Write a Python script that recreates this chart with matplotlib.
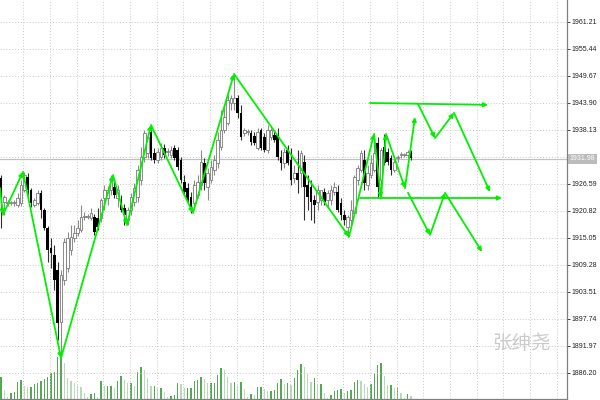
import matplotlib
matplotlib.use("Agg")
import matplotlib.pyplot as plt
import numpy as np

# ---------------- data (prices) ----------------
opens = [1927.9, 1922.7, 1922.5, 1922.5, 1922.5, 1922.1, 1922.5, 1925.3, 1928.1, 1925.3,
         1922.1, 1922.5, 1924.7, 1921.0, 1917.2, 1912.9, 1911.4, 1908.2, 1897.1, 1906.1,
         1908.6, 1912.5, 1915.1, 1916.1, 1916.8, 1919.5, 1919.5, 1919.3, 1919.5, 1919.3,
         1919.3, 1923.6, 1923.6, 1925.3, 1925.9, 1923.6, 1923.2, 1921.5, 1918.9, 1921.0,
         1922.7, 1923.8, 1927.4, 1932.4, 1933.2, 1937.7, 1933.2, 1931.7, 1932.4, 1934.3,
         1933.4, 1932.8, 1934.3, 1933.9, 1931.7, 1927.0, 1925.7, 1923.8, 1922.5, 1924.2,
         1926.4, 1931.1, 1925.9, 1927.4, 1929.6, 1931.1, 1934.5, 1938.1, 1939.6, 1943.9,
         1943.9, 1945.0, 1941.8, 1937.5, 1937.7, 1937.5, 1936.8, 1934.3, 1938.1, 1936.6,
         1933.9, 1936.6, 1937.1, 1937.1, 1932.4, 1931.1, 1933.9, 1931.7, 1927.9, 1928.9,
         1928.9, 1931.3, 1926.4, 1925.9, 1923.2, 1922.7, 1923.2, 1924.9, 1923.2, 1923.2,
         1924.9, 1924.9, 1922.5, 1920.0, 1917.4, 1918.9, 1920.4, 1927.4, 1929.6, 1931.7,
         1926.4, 1928.5, 1929.6, 1935.4, 1927.4, 1934.5, 1933.4, 1932.2, 1929.6, 1932.2,
         1932.8, 1932.8, 1932.8, 1933.4]
highs = [1928.5, 1924.2, 1923.2, 1923.0, 1923.2, 1924.7, 1927.4, 1929.2, 1928.9, 1925.7,
         1923.6, 1925.3, 1925.3, 1921.5, 1917.6, 1915.1, 1913.6, 1909.9, 1908.2, 1915.1,
         1916.3, 1917.8, 1917.8, 1918.9, 1922.1, 1920.6, 1920.2, 1921.5, 1920.2, 1921.5,
         1923.6, 1926.4, 1926.2, 1928.5, 1927.4, 1926.4, 1924.2, 1922.3, 1921.7, 1924.7,
         1926.8, 1930.6, 1934.5, 1938.1, 1937.5, 1939.2, 1934.3, 1934.3, 1935.4, 1935.1,
         1934.3, 1934.7, 1934.9, 1934.5, 1932.4, 1928.5, 1926.8, 1924.9, 1927.4, 1928.5,
         1933.9, 1932.2, 1930.0, 1931.7, 1932.8, 1937.7, 1942.4, 1943.5, 1945.6, 1945.6,
         1950.1, 1945.6, 1943.5, 1938.6, 1938.3, 1938.1, 1937.7, 1938.6, 1938.6, 1937.5,
         1939.2, 1938.6, 1938.1, 1938.6, 1933.9, 1934.3, 1934.9, 1934.3, 1930.6, 1933.9,
         1933.9, 1932.8, 1928.5, 1927.4, 1924.2, 1926.4, 1925.3, 1925.7, 1925.3, 1926.4,
         1927.0, 1926.4, 1923.6, 1921.0, 1920.0, 1923.2, 1928.5, 1930.6, 1933.9, 1933.9,
         1930.6, 1932.8, 1937.3, 1936.6, 1934.3, 1937.3, 1934.3, 1932.8, 1932.2, 1932.8,
         1933.4, 1933.2, 1933.9, 1933.9]
lows = [1917.2, 1920.0, 1921.9, 1922.1, 1921.9, 1921.7, 1921.9, 1924.9, 1924.2, 1921.7,
        1921.7, 1922.1, 1919.3, 1916.8, 1909.9, 1908.6, 1903.9, 1893.3, 1889.4, 1905.0,
        1907.8, 1911.4, 1914.2, 1915.5, 1916.3, 1918.9, 1919.1, 1918.9, 1915.7, 1916.8,
        1918.5, 1921.0, 1922.1, 1924.2, 1923.6, 1921.7, 1920.6, 1917.8, 1917.8, 1920.0,
        1921.9, 1922.7, 1926.4, 1931.3, 1932.2, 1931.7, 1931.1, 1931.1, 1931.7, 1932.2,
        1932.6, 1932.2, 1931.7, 1929.6, 1926.8, 1924.2, 1922.5, 1920.4, 1921.7, 1923.6,
        1925.3, 1925.3, 1923.2, 1926.8, 1928.5, 1930.0, 1933.9, 1937.5, 1939.2, 1942.4,
        1942.4, 1940.7, 1936.0, 1936.8, 1937.1, 1934.9, 1934.9, 1933.9, 1933.9, 1933.4,
        1933.2, 1936.0, 1935.6, 1931.7, 1929.6, 1930.0, 1930.6, 1926.4, 1926.8, 1924.7,
        1925.9, 1918.9, 1921.0, 1918.9, 1918.3, 1921.0, 1922.1, 1922.1, 1921.5, 1922.1,
        1924.2, 1920.6, 1918.9, 1917.8, 1915.3, 1917.8, 1920.0, 1926.4, 1929.2, 1925.3,
        1925.3, 1927.9, 1929.2, 1923.6, 1923.6, 1930.6, 1930.6, 1928.5, 1929.2, 1931.3,
        1932.2, 1932.4, 1932.2, 1931.7]
closes = [1923.8, 1923.8, 1922.7, 1922.5, 1922.7, 1923.6, 1926.4, 1928.5, 1925.3, 1922.5,
          1923.2, 1924.7, 1921.0, 1917.2, 1912.5, 1911.8, 1906.1, 1896.9, 1907.1, 1914.2,
          1915.1, 1915.3, 1916.1, 1917.2, 1919.5, 1919.6, 1919.8, 1920.4, 1916.3, 1917.4,
          1923.2, 1925.3, 1925.3, 1927.9, 1924.2, 1925.3, 1921.0, 1920.0, 1921.0, 1923.8,
          1925.7, 1929.6, 1932.4, 1937.5, 1936.6, 1932.2, 1931.7, 1933.4, 1934.3, 1932.8,
          1933.5, 1933.9, 1932.2, 1930.2, 1927.4, 1924.9, 1923.2, 1921.7, 1926.4, 1927.0,
          1931.3, 1926.8, 1928.9, 1930.2, 1931.7, 1936.0, 1938.1, 1940.9, 1944.5, 1945.0,
          1945.0, 1941.8, 1936.6, 1938.1, 1937.8, 1935.6, 1935.4, 1937.7, 1934.3, 1933.9,
          1938.1, 1938.1, 1936.0, 1932.4, 1931.1, 1933.4, 1931.1, 1927.4, 1928.9, 1927.4,
          1933.2, 1925.9, 1923.8, 1922.7, 1922.1, 1925.3, 1925.3, 1922.7, 1924.7, 1925.3,
          1925.9, 1921.0, 1920.0, 1918.9, 1919.5, 1921.0, 1928.1, 1930.0, 1933.2, 1926.8,
          1928.9, 1931.1, 1933.2, 1925.9, 1933.9, 1931.1, 1931.3, 1929.6, 1931.3, 1932.3,
          1932.9, 1932.9, 1933.4, 1932.2]
volumes = [2200, 900, 200, 600, 700, 1700, 1900, 1300, 1200, 1200,
           1500, 1600, 1800, 2000, 2200, 2600, 2700, 4200, 4200, 3600,
           2100, 1800, 1600, 1300, 1200, 600, 200, 500, 600, 200,
           1800, 1300, 1300, 1300, 1100, 1800, 2300, 1900, 1600, 1600,
           1300, 2700, 3200, 2900, 2100, 1300, 1300, 1100, 1100, 700,
           200, 300, 400, 1600, 1500, 1100, 1100, 1100, 1800, 1900,
           2200, 2000, 1600, 1600, 1600, 2400, 3100, 2900, 2200, 1600,
           1700, 1300, 1700, 1000, 200, 500, 400, 1200, 1200, 1000,
           800, 800, 900, 1600, 2000, 1500, 1600, 1400, 2100, 2900,
           3500, 3200, 2500, 1700, 2100, 1400, 1500, 600, 100, 400,
           800, 900, 1000, 600, 800, 900, 1700, 1900, 1800, 1500,
           1200, 1500, 2600, 3400, 3600, 2300, 1400, 1400, 1100, 1100,
           600, 100, 500, 300]

price_ticks = [1961.21, 1955.44, 1949.67, 1943.90, 1938.13, 1926.59, 1920.82,
               1915.05, 1909.28, 1903.51, 1897.74, 1891.97, 1886.20]
current_price = 1931.98

# zigzag pivots (bar index, price)
zz_x = [-0.3, 0.6, 6.6, 18.0, 33.6, 37.8, 45.0, 57.6, 69.9, 104.4, 111.9, 114.0, 115.5, 121.2]
zz_y = [1925.7, 1920.0, 1929.2, 1889.4, 1928.5, 1917.8, 1939.2, 1920.4, 1950.1, 1915.3,
        1937.3, 1923.6, 1937.3, 1925.7]
# projected paths
res_x = [110.7, 146.1]; res_y = [1943.9, 1943.5]
sup_x = [107.7, 150.3]; sup_y = [1923.6, 1923.6]
up_x = [121.2, 124.2]; up_y = [1925.7, 1940.9]
bull_x = [125.1, 130.2, 135.9, 146.7]; bull_y = [1943.7, 1936.4, 1941.8, 1924.9]
bear_x = [122.1, 128.7, 133.2, 144.3]; bear_y = [1924.7, 1915.7, 1924.7, 1912.1]

# ---------------- figure ----------------
fig = plt.figure(figsize=(6, 4), dpi=100)
ax = fig.add_axes([0, 1 / 400, 567 / 600, 399 / 400])
axv = ax.twinx()
ax.set_zorder(axv.get_zorder() + 1)
ax.patch.set_visible(False)

o = np.array(opens); h = np.array(highs); l = np.array(lows); c = np.array(closes)
n = len(o)
idx = np.arange(n)

# volumes
vol = np.array(volumes)
prev = np.concatenate([[0], vol[:-1]])
vcol = np.where(vol >= prev, '#55a955', '#b6dbb6')
axv.bar(idx, vol, width=0.38, color=vcol, linewidth=0)
axv.set_ylim(0, 39900)
axv.set_yticks([])
for s in axv.spines.values():
    s.set_visible(False)

# grid
xgrid = np.arange(6.7, 170, 8)
for xg in xgrid:
    ax.axvline(xg, color='#c8c8c8', lw=0.7, ls=(0, (1, 2)), zorder=0)
for yg in price_ticks + [1932.36]:
    ax.axhline(yg, color='#c8c8c8', lw=0.7, ls=(0, (1, 2)), zorder=0)

# bid line
ax.axhline(current_price, color='#c0c0c0', lw=0.9, zorder=1)

# candles
up = c >= o
ax.vlines(idx[up], l[up], h[up], color='#8c8c8c', lw=0.8, zorder=2)
ax.vlines(idx[~up], l[~up], h[~up], color='#303030', lw=0.8, zorder=2)
body_up = np.maximum(c[up] - o[up], 0.2)
ax.bar(idx[up], body_up, bottom=o[up], width=0.72, facecolor='white',
       edgecolor='#7a7a7a', linewidth=0.6, zorder=3)
body_dn = np.maximum(o[~up] - c[~up], 0.2)
ax.bar(idx[~up], body_dn, bottom=c[~up], width=0.72, color='black',
       linewidth=0, zorder=3)

green = '#00f000'


def arrow_path(xs, ys):
    for i in range(len(xs) - 1):
        ax.annotate('', xy=(xs[i + 1], ys[i + 1]), xytext=(xs[i], ys[i]),
                    arrowprops=dict(arrowstyle='-|>', color=green, lw=1.3,
                                    mutation_scale=6, shrinkA=0, shrinkB=0),
                    zorder=5)


arrow_path(zz_x, zz_y)
arrow_path(res_x, res_y)
arrow_path(sup_x, sup_y)
arrow_path(up_x, up_y)
arrow_path(bull_x, bull_y)
arrow_path(bear_x, bear_y)

# axes limits and ticks
ax.set_xlim(-0.3, 169.8)
ax.set_ylim(1880.64, 1965.91)
ax.set_xticks([])
ax.yaxis.tick_right()
ax.set_yticks(price_ticks)
ax.set_yticklabels(['%.2f' % t for t in price_ticks])
ax.tick_params(axis='y', direction='out', length=2, pad=1.5, labelsize=5,
               colors='#222222', width=0.6)
for lab in ax.get_yticklabels():
    lab.set_fontfamily('Liberation Sans')
for side in ['top', 'left']:
    ax.spines[side].set_visible(False)
ax.spines['right'].set_color('#808080')
ax.spines['bottom'].set_color('#808080')
ax.spines['right'].set_linewidth(0.9)
ax.spines['bottom'].set_linewidth(0.9)

# current price label
ax.text(1.004, current_price, '%.2f' % current_price, transform=ax.get_yaxis_transform(),
        ha='left', va='center', fontsize=5, color='white', family='Liberation Sans',
        bbox=dict(boxstyle='square,pad=0.25', fc='#bcbcbc', ec='none'), clip_on=False)

# watermark
ax.text(0.919, 0.138, '张绅尧', transform=ax.transAxes, ha='center', va='center',
        fontsize=14, color='#cacaca', family=['Noto Sans CJK SC', 'DejaVu Sans'])

fig.savefig('out.png', dpi=100)
